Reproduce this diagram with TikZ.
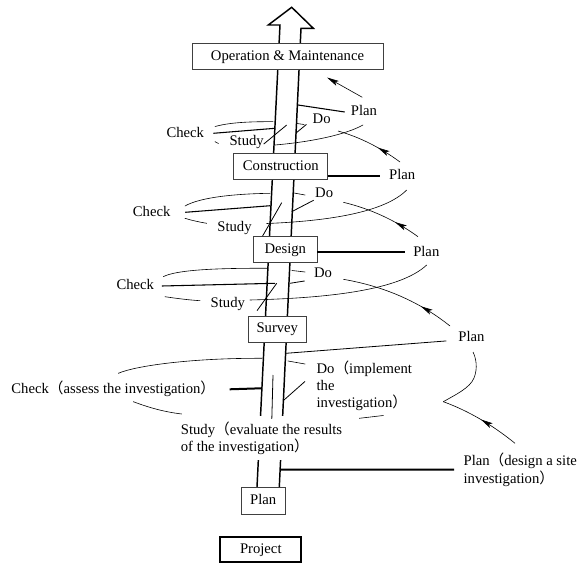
\documentclass[tikz,border=0pt]{standalone}
\usepackage{fontspec}
\setmainfont{Liberation Serif}
\newfontfamily\cjkfont{Noto Sans CJK SC}
\newcommand{\fwl}{{\cjkfont （}}
\newcommand{\fwr}{{\cjkfont ）}}
\usetikzlibrary{arrows.meta,decorations.markings}

\tikzset{
  stagebox/.style={draw=black!75,line width=0.6pt,fill=white,inner sep=0pt,minimum height=19.5pt,text height=1.5ex,text depth=.25ex},
  lbl/.style={inner sep=1pt,text height=1.5ex,text depth=.25ex},
  lblblock/.style={inner sep=1pt,align=left,anchor=west},
  shaftln/.style={line width=1.1pt,line join=miter},
  heavyln/.style={line width=1.5pt},
  pointln/.style={line width=0.8pt},
  thinln/.style={line width=0.6pt},
  loopln/.style={line width=0.45pt,line cap=round},
  arrowln/.style={line width=0.45pt},
  midarrow/.style={postaction={decorate},decoration={markings,mark=at position #1 with {\arrow{Stealth[length=9pt,width=4pt,inset=2pt]}}}}
}

\begin{document}
\begin{tikzpicture}[x=0.75pt,y=0.75pt,yscale=-1,xscale=1,every node/.style={font=\fontsize{11}{13}\selectfont}]
\useasboundingbox (0,0) rectangle (579,563);

%Shaft with open arrow head
\draw[shaftln] (257,487) -- (280,25) -- (268.3,25) -- (291.7,7.3) -- (313.3,28.3) -- (301,28.3) -- (279.3,487);

% Stage boxes
\node[stagebox,minimum width=143.1pt] (om) at (287.5,56.7) {Operation \& Maintenance};
\node[stagebox,minimum width=70.6pt] (con) at (280.8,166.7) {Construction};
\node[stagebox,minimum width=47.4pt] (des) at (285.3,249.3) {Design};
\node[stagebox,minimum width=43.9pt] (sur) at (277.3,329) {Survey};
\node[stagebox,minimum width=33.2pt,minimum height=19.8pt] (pln) at (263.2,500.8) {Plan};
\node[stagebox,draw=black,line width=1.4pt,minimum width=60.9pt,minimum height=18.4pt] (prj) at (260.8,549.3) {Project};

% Text Node
\node[lblblock,inner xsep=1pt,inner ysep=4pt,fill=white] (studyD) at (179.3,438.3) {Study\fwl evaluate the results\\of the investigation\fwr};

%Loop round Operation & Maintenance
\node[lbl] (planA) at (364,112) {Plan};
\node[lbl] (doA) at (321.7,119.3) {Do};
\node[lbl] (checkA) at (185.3,133.3) {Check};
\node[lbl] (studyA) at (246.7,141.7) {Study};
\coordinate (shA1) at (298,105);
\coordinate (shA2) at (275,128.3);
\coordinate (shA3) at (286.7,125);
\coordinate (shA4) at (295.7,133.3);
\draw[pointln] ([xshift=-3.5pt]planA.west) -- (shA1);
\draw[pointln] ([xshift=5.8pt]checkA.east) -- (shA2);
\draw[thinln] ([xshift=-1.3pt,yshift=1.8pt]studyA.east) -- (shA3);
\draw[thinln] (shA4) -- ([xshift=-3.5pt,yshift=-1.4pt]doA.south west);
\draw[loopln] (215,126.5) .. controls (228,123) and (245,121.5) .. (273,121.7);
\draw[loopln] (297,123.5) -- (304,124.5);
\draw[loopln] (215,141.7) -- (218.5,143.5);
\draw[loopln] (275,145) .. controls (310,142) and (345,135) .. (363,125);

%Loop round Construction
\node[lbl] (planB) at (402.2,176) {Plan};
\node[lbl] (doB) at (324.2,193.3) {Do};
\node[lbl] (checkB) at (151.7,212.3) {Check};
\node[lbl] (studyB) at (234.5,227.7) {Study};
\coordinate (shB2) at (270.5,205.7);
\coordinate (shB3) at (281.7,202.7);
\coordinate (shB4) at (291.7,211.7);
\draw[heavyln] ([xshift=-5.9pt]planB.west) -- (con.east |- planB.west);
\draw[pointln] ([xshift=9.9pt]checkB.east) -- (shB2);
\draw[thinln] ([xshift=7pt,yshift=6.3pt]studyB.east) -- (shB3);
\draw[thinln] (shB4) -- (doB.south west);
\draw[loopln] (185,206) .. controls (197,199) and (225,194) .. (270,193.3);
\draw[loopln] (294,193) -- (305,195);
\draw[loopln] (185,218.3) .. controls (192,220.5) and (199,222) .. (206.7,223.3);
\draw[loopln] (266.7,223.5) .. controls (330,221) and (385,212) .. (406.7,190);

%Loop round Design
\node[lbl] (planC) at (426.3,252.3) {Plan};
\node[lbl] (doC) at (323,274) {Do};
\node[lbl] (checkC) at (135.3,286) {Check};
\node[lbl] (studyC) at (227.8,304) {Study};
\coordinate (shC2) at (275,283.3);
\coordinate (shC3) at (276.7,283.3);
\coordinate (shC4) at (290,283.3);
\draw[heavyln] ([xshift=-5.2pt]planC.west) -- (des.east |- planC.west);
\draw[pointln] ([xshift=4.7pt]checkC.east) -- (shC2);
\draw[thinln] ([xshift=7.9pt,yshift=5pt]studyC.east) -- (shC3);
\draw[thinln] (shC4) -- ([xshift=-5.8pt]doC.south west);
\draw[loopln] (163.3,276.7) .. controls (175,270.5) and (210,268) .. (266.7,268.3);
\draw[loopln] (292,270.5) -- (305,272);
\draw[loopln] (165,296.7) .. controls (177,298.5) and (189,300) .. (200,300.7);
\draw[loopln] (250,300) .. controls (330,298) and (400,290) .. (426.7,265);

%Loop round Survey
\node[lbl] (planD) at (471.5,338) {Plan};
\node[lblblock] (doD) at (315,385.7) {Do\fwl implement\\the\\investigation\fwr};
\node[lbl] (checkD) at (113.3,389.3) {Check\fwl assess the investigation\fwr};
\coordinate (shD1) at (286,353.3);
\coordinate (shD2) at (261,388.3);
\coordinate (shD3) at (273,375);
\coordinate (shD4) at (284,400);
\draw[thinln] ([xshift=-7.9pt,yshift=2.2pt]planD.west) -- (shD1);
\draw[heavyln] ([xshift=9.6pt]checkD.east) -- (shD2);
\draw[thinln] ([xshift=7.7pt,yshift=2pt]studyD.north) -- (shD3);
\draw[thinln] (shD4) -- ([xshift=-7.5pt,yshift=-3.2pt]doD.west);
\draw[loopln] (118.3,373.3) .. controls (135,366) and (190,358) .. (262,358.3);
\draw[loopln] (288,361) -- (305,364);
\draw[loopln] (133.3,401.7) .. controls (150,408) and (165,412) .. (181.7,414);
\draw[loopln] (359.3,418.3) -- (383.3,415.5);

%Site investigation plan
\node[lblblock] (planE) at (462,469.7) {Plan\fwl design a site\\investigation\fwr};
\coordinate (shE1) at (280.2,469.5);
\draw[heavyln] ([xshift=-6pt]planE.west) -- (shE1);

%Arrows between the loops
\coordinate (arA1) at (362.3,97.3);
\coordinate (arA2) at (327,77.5);
\coordinate (arB1) at (400,162);
\coordinate (arB2) at (338,131);
\coordinate (arC1) at (418,236.7);
\coordinate (arC2) at (343.3,202.3);
\coordinate (arD1) at (450,326);
\coordinate (arD2) at (343.3,279.3);
\coordinate (arE1) at (515,443.3);
\coordinate (arE2) at (443.3,401.7);
\coordinate (arE3) at (473,352);
\draw[arrowln,-{Stealth[length=9pt,width=4pt,inset=2pt]}] (arA1) -- (arA2);
\draw[arrowln,midarrow=0.38] (arB1) .. controls (380,147.3) and (359.3,137) .. (arB2);
\draw[arrowln,midarrow=0.33] (arC1) .. controls (395.3,220.2) and (370.4,208.8) .. (arC2);
\draw[arrowln,midarrow=0.3] (arD1) .. controls (420,302) and (384.4,286.4) .. (arD2);
\draw[arrowln,midarrow=0.5] (arE1) .. controls (491.7,424.4) and (467.8,410.6) .. (arE2);
\draw[arrowln] (arE2) .. controls (455,395) and (470,388) .. (474,378) .. controls (478,368) and (476,358) .. (arE3);

\end{tikzpicture}
\end{document}
